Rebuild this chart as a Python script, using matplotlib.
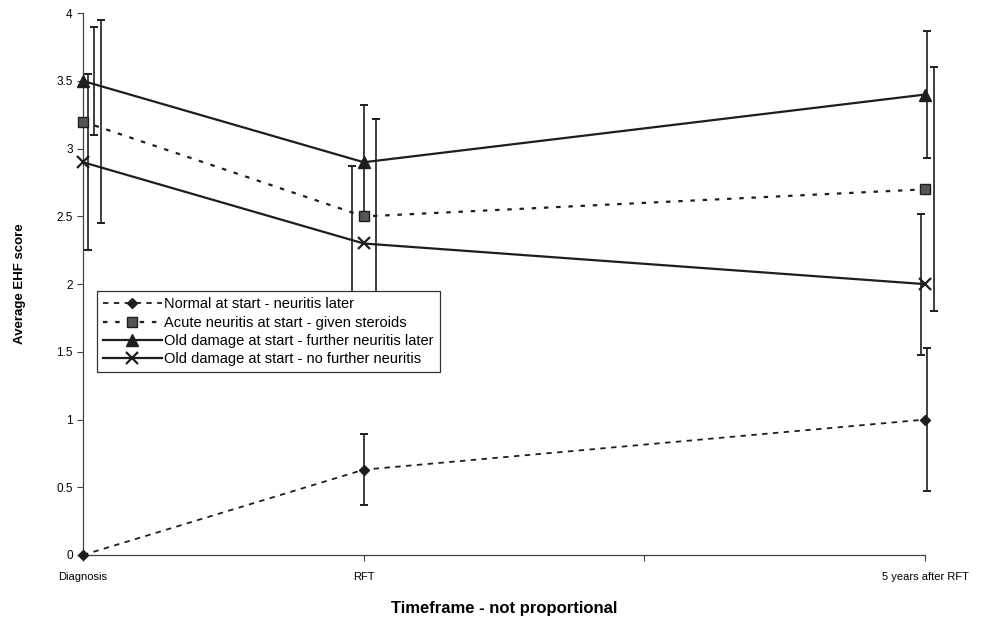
import matplotlib.pyplot as plt
import numpy as np

plt.rcParams['font.family'] = ['Liberation Sans', 'DejaVu Sans']

# category positions (third slot is an empty category on the original axis)
tick_pos = [0, 1, 2, 3]
tick_labels = ['Diagnosis', 'RFT', '', '5 years after RFT']
x_pts = [0, 1, 3]

# series values
normal = [0.0, 0.63, 1.0]
acute = [3.2, 2.5, 2.7]
old_further = [3.5, 2.9, 3.4]
old_none = [2.9, 2.3, 2.0]

# error bar half-widths
normal_err = [0.0, 0.26, 0.53]
acute_err = [0.75, 0.72, 0.9]
old_further_err = [0.4, 0.42, 0.47]
old_none_err = [0.65, 0.57, 0.52]

names = ['Normal at start - neuritis later',
         'Acute neuritis at start - given steroids',
         'Old damage at start - further neuritis later',
         'Old damage at start - no further neuritis']

# horizontal nudges of the error bars (as in the scanned original)
offsets = {
    'normal': [0.0, 0.0, 0.007],
    'acute': [0.064, 0.043, 0.032],
    'old_further': [0.04, 0.0, 0.007],
    'old_none': [0.018, -0.043, -0.014],
}

ink = '#1e1e1e'

fig = plt.figure(figsize=(9.83, 6.17), dpi=100)
ax = fig.add_axes([0.0845, 0.1005, 0.8566, 0.878])

series = [
    ('normal', normal, normal_err, dict(ls=(0, (3, 3)), marker='D', ms=5.5, lw=1.3)),
    ('acute', acute, acute_err, dict(ls=(0, (2, 3.5)), marker='s', ms=6.5, lw=1.6,
                                      markerfacecolor='#555555')),
    ('old_further', old_further, old_further_err, dict(ls='-', marker='^', ms=8, lw=1.6)),
    ('old_none', old_none, old_none_err, dict(ls='-', marker='x', ms=8, mew=1.6, lw=1.6)),
]

for (key, vals, errs, style), name in zip(series, names):
    ax.plot(x_pts, vals, color=ink, markeredgecolor=ink, label=name,
            clip_on=False, zorder=3, **style)
    ex = np.array(x_pts) + np.array(offsets[key])
    eb = ax.errorbar(ex, vals, yerr=errs, fmt='none', ecolor=ink, elinewidth=1.2,
                     capsize=3, capthick=1.4)
    for art in eb.lines[1] + eb.lines[2]:
        art.set_clip_on(False)

ax.set_xlim(0, 3)
ax.set_ylim(0, 4)
ax.set_xticks(tick_pos)
ax.set_xticklabels(tick_labels, fontsize=8)
ax.set_yticks(np.arange(0, 4.01, 0.5))
ax.set_yticklabels(['0', '0.5', '1', '1.5', '2', '2.5', '3', '3.5', '4'], fontsize=8.5)
ax.tick_params(axis='both', direction='out', length=4, width=0.8, color='#444444')
ax.tick_params(axis='x', pad=8)

for side in ['top', 'right']:
    ax.spines[side].set_visible(False)
for side in ['left', 'bottom']:
    ax.spines[side].set_color('#444444')
    ax.spines[side].set_linewidth(0.9)

ax.set_xlabel('Timeframe - not proportional', fontsize=12, fontweight='bold', labelpad=14)
ax.set_ylabel('Average EHF score', fontsize=9.5, fontweight='bold', labelpad=22)

leg = ax.legend(loc='upper left', bbox_to_anchor=(0.025, 2.0),
                bbox_transform=ax.transData, fontsize=10.5, frameon=True,
                fancybox=False, framealpha=1, handlelength=4.0, borderpad=0.4,
                labelspacing=0.3, handletextpad=0.2)
leg.set_zorder(10)
leg.get_frame().set_edgecolor('#333333')
leg.get_frame().set_linewidth(0.9)

fig.savefig('out.png', dpi=100)
